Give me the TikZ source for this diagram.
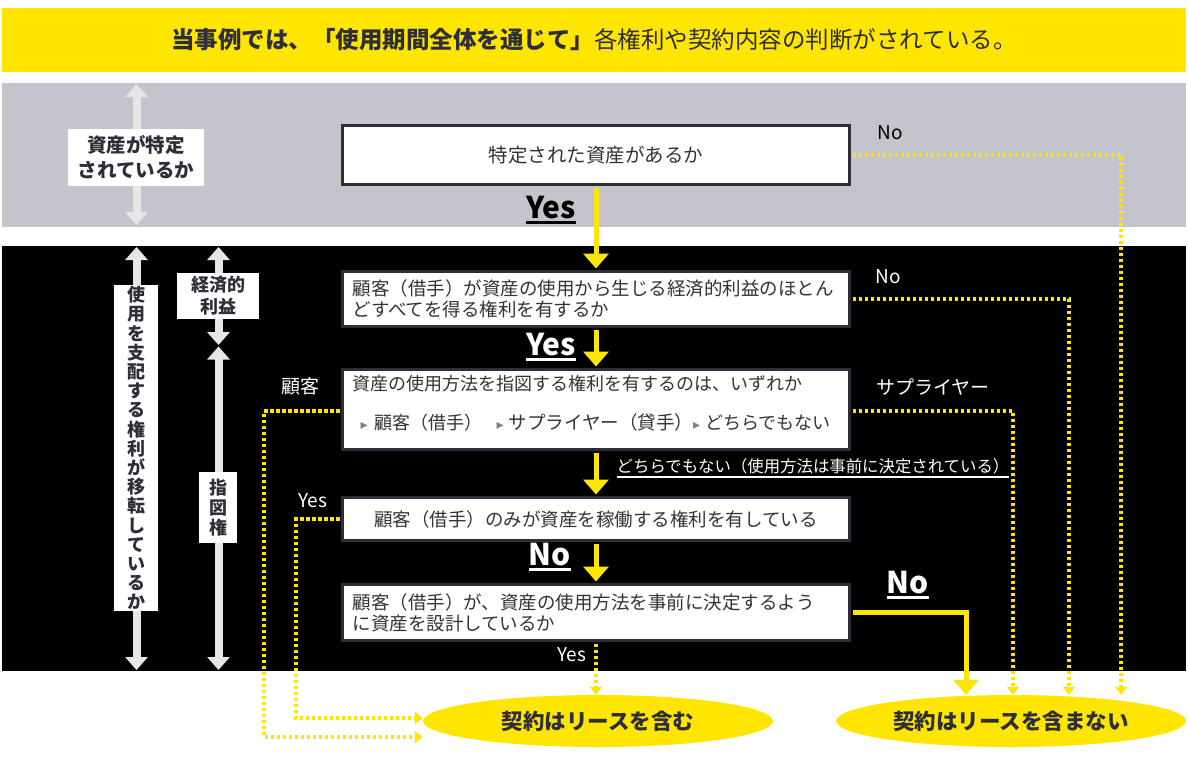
\documentclass[tikz,border=0pt]{standalone}
\usepackage{fontspec}
\setmainfont{Noto Sans CJK JP}
\newfontfamily\symfont{DejaVu Sans}
\usetikzlibrary{positioning,arrows.meta,calc,shapes.geometric}

\definecolor{eyyellow}{HTML}{FFE600}
\definecolor{eydark}{HTML}{2E2E38}
\definecolor{bandgray}{HTML}{C4C4CD}
\definecolor{arrowgray}{HTML}{E6E6E6}
\definecolor{txtgray}{HTML}{333333}
\definecolor{tipgray}{HTML}{7F7F8A}

\newcommand\ulined[3]{\setbox0=\hbox{#1}\rlap{\usebox0}\rule[-#3]{\wd0}{#2}}
\newcommand\tri{{\symfont\fontsize{14}{14}\selectfont\color{tipgray}▸}}

\begin{document}
\begin{tikzpicture}[x=1pt,y=-1pt,
  qbox/.style={draw=eydark,line width=3pt,fill=white,minimum width=507pt,text=txtgray,inner xsep=10pt,inner ysep=0pt,font=\fontsize{18.5}{21}\selectfont},
  qleft/.style={qbox,text width=487pt,align=left},
  sidelbl/.style={fill=white,text=eydark,inner sep=0pt,align=center,font=\bfseries\fontsize{18}{20}\selectfont},
  flow/.style={draw=eyyellow,line width=5pt,shorten <=1.5pt,shorten >=1.5pt,-{Triangle[width=25pt,length=15pt]}},
  dotflow/.style={draw=eyyellow,line width=3.5pt,dash pattern=on 3.5pt off 2.5pt,shorten <=1.5pt,-{Triangle[width=12pt,length=8pt]}},
  span/.style={draw=arrowgray,line width=8pt,{Triangle[width=22pt,length=13pt]}-{Triangle[width=22pt,length=13pt]}},
  bigans/.style={text=white,font=\bfseries\fontsize{30}{30}\selectfont,inner sep=0pt},
  ans/.style={text=white,font=\fontsize{19}{19}\selectfont,inner sep=0pt},
  result/.style={ellipse,fill=eyyellow,minimum width=350pt,minimum height=52pt,inner sep=0pt,text=eydark,font=\bfseries\fontsize{21.5}{22}\selectfont}
]
\useasboundingbox (0,0) rectangle (1188,756);
\fill[white] (0,0) rectangle (1188,756);

%Title
\node[fill=eyyellow,minimum width=1184pt,minimum height=64pt,inner sep=0pt,text=eydark,font=\fontsize{23.5}{24}\selectfont] (title) at (594,40) {\textbf{当事例では、「使用期間全体を通じて」}各権利や契約内容の判断がされている。};
%Bands
\fill[bandgray] (2,83) rectangle (1186,227);
\fill[black] (2,246) rectangle (1186,671);

%Identified asset
\coordinate (idTop) at (136.5,84);
\coordinate (idBot) at (136.5,225);
\draw[span] (idTop) -- (idBot);
\node[sidelbl,minimum width=136pt,minimum height=57pt,font=\bfseries\fontsize{19.5}{25}\selectfont] (idlbl) at (136,157.5) {資産が特定\\されているか};
%Right to control
\coordinate (ctlTop) at (136.5,247);
\coordinate (ctlBot) at (136.5,670);
\draw[span] (ctlTop) -- (ctlBot);
\node[sidelbl,minimum width=44pt,minimum height=326pt,font=\bfseries\fontsize{18}{19.2}\selectfont] (ctllbl) at (136,448) {使\\用\\を\\支\\配\\す\\る\\権\\利\\が\\移\\転\\し\\て\\い\\る\\か};
%Economic benefits
\coordinate (ecoTop) at (218.5,247);
\coordinate (ecoBot) at (218.5,345);
\draw[span] (ecoTop) -- (ecoBot);
\node[sidelbl,minimum width=82pt,minimum height=46pt,font=\bfseries\fontsize{18}{22}\selectfont] (ecolbl) at (218,296) {経済的\\利益};
%Direction
\coordinate (dirTop) at (218.5,346.5);
\coordinate (dirBot) at (218.5,670);
\draw[span] (dirTop) -- (dirBot);
\node[sidelbl,minimum width=38pt,minimum height=71pt] (dirlbl) at (218,507.5) {指\\図\\権};

%Questions
\node[qbox,minimum height=59pt,font=\fontsize{19.5}{21}\selectfont] (q1) at (596,155) {特定された資産があるか};
\node[qleft,minimum height=55pt] (q2) at (596,299) {顧客（借手）が資産の使用から生じる経済的利益のほとん\\どすべてを得る権利を有するか};
\node[qleft,minimum height=80pt,font=\fontsize{18}{21}\selectfont] (q3) at (596,409.5) {資産の使用方法を指図する権利を有するのは、いずれか\\[18pt]\hspace*{8pt}\tri\hspace{7pt}顧客（借手）\hspace{14pt}\tri\hspace{5pt}{\fontsize{18.5}{21}\selectfont サプライヤー（貸手）}\tri\hspace{5pt}どちらでもない\rule[-14pt]{0pt}{1pt}};
\node[qbox,minimum height=43pt] (q4) at (596,519) {顧客（借手）のみが資産を稼働する権利を有している};
\node[qleft,minimum height=56pt] (q5) at (596,612.5) {顧客（借手）が、資産の使用方法を事前に決定するよう\\に資産を設計しているか};

%Results
\node[result] (lease) at (598,721) {契約はリースを含む};
\node[result] (nolease) at (1011,721) {契約はリースを含まない};

%Main flow
\draw[flow] (q1) -- (q2);
\draw[flow] (q2) -- (q3);
\draw[flow] (q3) -- (q4);
\draw[flow] (q4) -- (q5);
\draw[flow,shorten >=0pt] (q5.east) -| ($(nolease.north)+(-45,0)$);
%Side exits
\draw[dotflow] (q1.east) -| ($(nolease.north)+(110,0)$);
\draw[dotflow] (q2.east) -| ($(nolease.north)+(58,0)$);
\draw[dotflow] ($(q3.east)+(0,1.5)$) -| ($(nolease.north)+(2,0)$);
\draw[dotflow] ($(q3.west)+(0,1.5)$) -- ++(-77,0) |- ($(lease.west)+(0,16)$);
\draw[dotflow] (q4.west) -- ++(-45,0) |- ($(lease.west)+(0,-3)$);
\draw[dotflow] (q5.south) -- (q5.south |- lease.north);

%Answers
\node[font=\bfseries\fontsize{30}{30}\selectfont,text=black,inner sep=0pt] (yes1) at (551,210) {\ulined{Yes}{2.5pt}{5pt}};
\node[bigans] (yes2) at (551,347) {\ulined{Yes}{2.5pt}{5pt}};
\node[bigans] (no3) at (550,557) {\ulined{No}{2.5pt}{5pt}};
\node[bigans] (no5) at (908,585) {\ulined{No}{2.5pt}{5pt}};
\node[ans,text=black] (no1) at (890,133) {No};
\node[ans] (no2) at (888,277) {No};
\node[ans] (cust) at (300,386) {顧客};
\node[ans] (supp) at (933,387) {サプライヤー};
\node[ans] (yes4) at (313,501) {Yes};
\node[ans] (yes5) at (572,655) {Yes};
\node[ans,font=\fontsize{16.4}{16}\selectfont] (neither) at (813,468) {\ulined{どちらでもない（使用方法は事前に決定されている）}{1.2pt}{5pt}};

\end{tikzpicture}
\end{document}
